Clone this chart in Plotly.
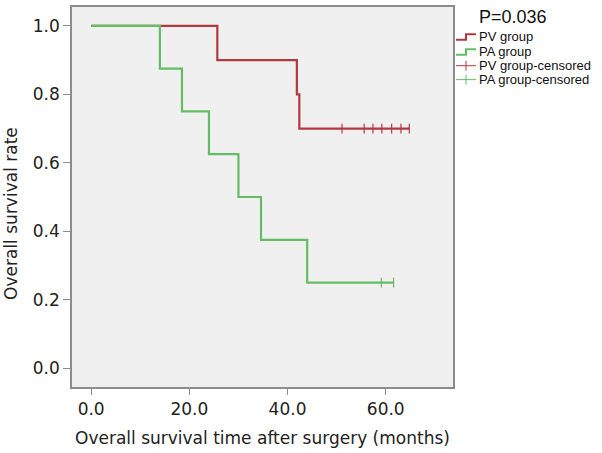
import plotly.graph_objects as go

# ---- data ----
pv_time = [0, 25.7, 41.9, 42.4, 64.8]
pv_surv = [1.0, 0.9, 0.8, 0.7, 0.7]
pv_cens_time = [51.1, 55.6, 57.4, 59.2, 61.2, 63.1, 64.8]
pv_cens_surv = [0.7, 0.7, 0.7, 0.7, 0.7, 0.7, 0.7]

pa_time = [0, 14.0, 18.5, 24.0, 30.0, 34.6, 44.0, 61.6]
pa_surv = [1.0, 0.875, 0.75, 0.625, 0.5, 0.375, 0.25, 0.25]
pa_cens_time = [59.1, 61.6]
pa_cens_surv = [0.25, 0.25]

x_ticks = [0, 20, 40, 60]
x_ticklabels = ["0.0", "20.0", "40.0", "60.0"]
y_ticks = [0, 0.2, 0.4, 0.6, 0.8, 1.0]
y_ticklabels = ["0.0", "0.2", "0.4", "0.6", "0.8", "1.0"]

legend_labels = ["PV group", "PA group", "PV group-censored", "PA group-censored"]
p_text = "P=0.036"

RED = "#B23A3F"
GREEN = "#63BE63"
FONT = "Liberation Sans, Arial, sans-serif"
AXFONT = "DejaVu Sans, sans-serif"
AXC = "#8C8C8C"

fig = go.Figure()
fig.add_trace(go.Scatter(x=pv_time, y=pv_surv, mode="lines", line=dict(color=RED, width=2.2, shape="hv"),
                         showlegend=False))
fig.add_trace(go.Scatter(x=pa_time, y=pa_surv, mode="lines", line=dict(color=GREEN, width=2.2, shape="hv"),
                         showlegend=False))
fig.add_trace(go.Scatter(x=pv_cens_time, y=pv_cens_surv, mode="markers",
                         marker=dict(symbol="line-ns", size=7, line=dict(color=RED, width=1.2)),
                         showlegend=False))
fig.add_trace(go.Scatter(x=pa_cens_time, y=pa_cens_surv, mode="markers",
                         marker=dict(symbol="line-ns", size=7, line=dict(color=GREEN, width=1.2)),
                         showlegend=False))

L, R, T, B = 72, 149, 5, 66
W, H = 602, 453
pw, ph = W - L - R, H - T - B


def px(xp):
    return (xp - L) / pw


def py(yp):
    return (H - B - yp) / ph


shapes = []
annotations = []
# custom legend
leg_y = [35, 50, 64, 78]
cols = [RED, GREEN, RED, GREEN]
for i, (lab, c, yy) in enumerate(zip(legend_labels, cols, leg_y)):
    annotations.append(dict(x=px(477), y=py(yy), xref="paper", yref="paper", text=lab, showarrow=False,
                            xanchor="left", yanchor="middle", font=dict(family=FONT, size=13, color="#111")))
    if i < 2:
        path = "M {:.4f},{:.4f} L {:.4f},{:.4f} L {:.4f},{:.4f} L {:.4f},{:.4f}".format(
            px(456), py(yy + 3), px(466), py(yy + 3), px(466), py(yy - 2.5), px(476), py(yy - 2.5))
        shapes.append(dict(type="path", xref="paper", yref="paper", path=path,
                           line=dict(color=c, width=2)))
    else:
        shapes.append(dict(type="line", xref="paper", yref="paper", x0=px(456), x1=px(476),
                           y0=py(yy), y1=py(yy), line=dict(color=c, width=1)))
        shapes.append(dict(type="line", xref="paper", yref="paper", x0=px(466), x1=px(466),
                           y0=py(yy - 5), y1=py(yy + 5), line=dict(color=c, width=1)))

annotations.append(dict(x=px(477), y=py(15), xref="paper", yref="paper", text=p_text, showarrow=False,
                        xanchor="left", yanchor="middle", font=dict(family=FONT, size=18, color="#111")))
annotations.append(dict(x=px(11), y=py(213), xref="paper", yref="paper", text="Overall survival rate",
                        showarrow=False, textangle=-90, xanchor="center", yanchor="middle",
                        font=dict(family=AXFONT, size=17, color="#222")))
annotations.append(dict(x=0.5, y=py(438), xref="paper", yref="paper",
                        text="Overall survival time after surgery (months)", showarrow=False,
                        xanchor="center", yanchor="middle", font=dict(family=AXFONT, size=17, color="#222")))

fig.update_layout(
    width=W, height=H,
    margin=dict(l=L, r=R, t=T, b=B, pad=0),
    paper_bgcolor="white", plot_bgcolor="#F0F0F0",
    shapes=shapes, annotations=annotations,
    showlegend=False,
    font=dict(family=AXFONT, size=17, color="#222"),
)
fig.update_xaxes(range=[-3.9, 73.7], tickvals=x_ticks, ticktext=x_ticklabels, showgrid=False, zeroline=False,
                 showline=True, linecolor=AXC, linewidth=1.5, mirror=True, ticks="outside", ticklen=6,
                 tickcolor=AXC, tickfont=dict(family=AXFONT, size=17, color="#222"))
fig.update_yaxes(range=[-0.055, 1.055], tickvals=y_ticks, ticktext=y_ticklabels, showgrid=False, zeroline=False,
                 showline=True, linecolor=AXC, linewidth=1.5, mirror=True, ticks="outside", ticklen=7,
                 tickcolor=AXC, tickfont=dict(family=AXFONT, size=17, color="#222"))

fig.write_html("out.html", config={"displayModeBar": False},
               post_script="document.body.style.margin='0px';document.body.style.overflow='hidden';")
